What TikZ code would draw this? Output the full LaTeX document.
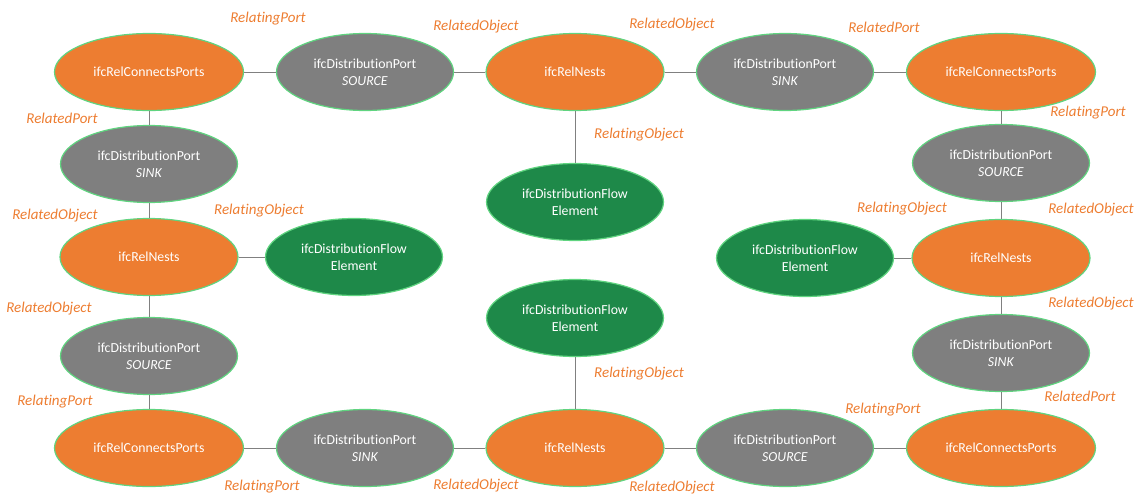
\documentclass[tikz,border=0pt]{standalone}
\usepackage{fontspec}
\setmainfont{Carlito}[Ligatures={NoCommon}]
\usetikzlibrary{shapes.geometric}
\definecolor{relorange}{RGB}{237,125,49}
\definecolor{portgray}{RGB}{127,127,127}
\definecolor{flowgreen}{RGB}{30,137,73}
\definecolor{rimgreen}{RGB}{96,212,128}
\definecolor{linkgray}{RGB}{128,128,128}
\begin{document}
\begin{tikzpicture}[x=1pt,y=-1pt,
  base/.style={ellipse, draw=rimgreen, line width=1.2pt, inner sep=0pt,
    minimum height=77pt, text=white, align=center,
    font=\fontsize{13.8}{17}\selectfont},
  rel/.style={base, fill=relorange, minimum width=189pt},
  nest/.style={base, fill=relorange, minimum width=178pt},
  port/.style={base, fill=portgray, minimum width=177pt},
  flow/.style={base, fill=flowgreen, minimum width=177pt},
  role/.style={text=relorange, font=\fontsize{15}{18}\selectfont\itshape, inner sep=0pt},
  link/.style={draw=linkgray, line width=0.8pt}]
\useasboundingbox (0,0) rectangle (1137,495);

% top row
\node[rel]  (cpTL) at (149,72)  {ifcRelConnectsPorts};
\node[port] (srcT) at (365,72)  {ifcDistributionPort\\\textit{SOURCE}};
\node[nest] (nT)   at (575,72)  {ifcRelNests};
\node[port] (snkT) at (785,72)  {ifcDistributionPort\\\textit{SINK}};
\node[rel]  (cpTR) at (1001,72) {ifcRelConnectsPorts};
\node[flow] (fT)   at (575,202) {ifcDistributionFlow\\Element};

% left column
\node[port] (snkL) at (149,164) {ifcDistributionPort\\\textit{SINK}};
\node[nest] (nL)   at (149,257) {ifcRelNests};
\node[flow] (fL)   at (354,257) {ifcDistributionFlow\\Element};
\node[port] (srcL) at (149,356) {ifcDistributionPort\\\textit{SOURCE}};

% right column
\node[port] (srcR) at (1001,163) {ifcDistributionPort\\\textit{SOURCE}};
\node[nest] (nR)   at (1001,258) {ifcRelNests};
\node[flow] (fR)   at (805,258)  {ifcDistributionFlow\\Element};
\node[port] (snkR) at (1001,353) {ifcDistributionPort\\\textit{SINK}};

% bottom row
\node[rel]  (cpBL) at (149,448) {ifcRelConnectsPorts};
\node[port] (snkB) at (365,448) {ifcDistributionPort\\\textit{SINK}};
\node[nest] (nB)   at (575,448) {ifcRelNests};
\node[port] (srcB) at (785,448) {ifcDistributionPort\\\textit{SOURCE}};
\node[rel]  (cpBR) at (1001,448) {ifcRelConnectsPorts};
\node[flow] (fB)   at (575,318) {ifcDistributionFlow\\Element};

% connectors
\path[link] (cpTL) -- (srcT) (srcT) -- (nT) (nT) -- (snkT) (snkT) -- (cpTR)
  (nT) -- (fT)
  (cpTR) -- (srcR) (srcR) -- (nR) (nR) -- (fR) (nR) -- (snkR) (snkR) -- (cpBR)
  (cpBR) -- (srcB) (srcB) -- (nB) (nB) -- (fB) (nB) -- (snkB) (snkB) -- (cpBL)
  (cpBL) -- (srcL) (srcL) -- (nL) (nL) -- (fL) (nL) -- (snkL) (snkL) -- (cpTL);

% role labels
\node[role] (r01) at (268,19)  {RelatingPort};
\node[role] (r02) at (62,118)  {RelatedPort};
\node[role] (r03) at (476,27)  {RelatedObject};
\node[role] (r04) at (672,25)  {RelatedObject};
\node[role] (r05) at (639,135) {RelatingObject};
\node[role] (r06) at (884,27)  {RelatedPort};
\node[role] (r07) at (1088,113) {RelatingPort};
\node[role] (r08) at (55,216)  {RelatedObject};
\node[role] (r09) at (259,211) {RelatingObject};
\node[role] (r10) at (902,209) {RelatingObject};
\node[role] (r11) at (1091,210) {RelatedObject};
\node[role] (r12) at (49,309)  {RelatedObject};
\node[role] (r13) at (1091,304) {RelatedObject};
\node[role] (r14) at (639,374) {RelatingObject};
\node[role] (r15) at (55,402)  {RelatingPort};
\node[role] (r16) at (1080,396) {RelatedPort};
\node[role] (r17) at (883,410) {RelatingPort};
\node[role] (r18) at (262,487) {RelatingPort};
\node[role] (r19) at (476,486) {RelatedObject};
\node[role] (r20) at (672,488) {RelatedObject};
\end{tikzpicture}
\end{document}
